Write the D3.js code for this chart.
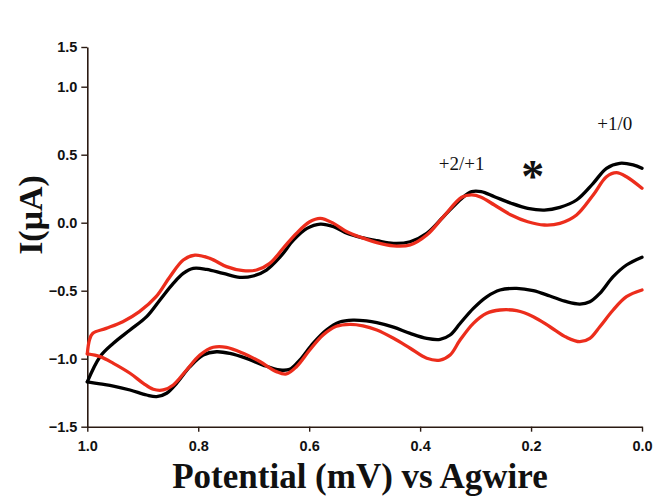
<!DOCTYPE html>
<html><head><meta charset="utf-8">
<script src="https://cdn.jsdelivr.net/npm/d3@7"></script>
<style>body{margin:0;background:#fff}svg{display:block}</style>
</head><body>
<svg id="chart" width="654" height="499"></svg>
<script>
// Potential (x) and current (y) arrays
const blackFwdX = [1.0,0.977,0.953,0.923,0.893,0.869,0.845,0.827,0.809,0.785,0.755,0.725,0.701,0.677,0.652,0.628,0.604,0.580,0.556,0.532,0.505,0.478,0.448,0.418,0.388,0.358,0.325,0.307,0.290,0.266,0.236,0.206,0.176,0.148,0.118,0.088,0.064,0.040,0.016,0.0];
const blackFwdY = [-1.17,-0.985,-0.887,-0.789,-0.691,-0.568,-0.446,-0.373,-0.336,-0.343,-0.373,-0.402,-0.392,-0.348,-0.250,-0.127,-0.042,-0.010,-0.029,-0.078,-0.11,-0.132,-0.152,-0.140,-0.078,0.044,0.179,0.228,0.228,0.191,0.143,0.106,0.093,0.113,0.167,0.290,0.400,0.437,0.425,0.400];
const blackRevX = [0.0,0.028,0.052,0.076,0.094,0.112,0.136,0.166,0.196,0.226,0.256,0.280,0.304,0.328,0.346,0.364,0.388,0.418,0.448,0.478,0.497,0.521,0.545,0.569,0.593,0.617,0.635,0.653,0.683,0.713,0.743,0.767,0.791,0.815,0.839,0.857,0.875,0.893,0.923,0.953,0.977,1.0];
const blackRevY = [-0.254,-0.311,-0.397,-0.519,-0.581,-0.598,-0.581,-0.539,-0.500,-0.483,-0.495,-0.545,-0.630,-0.741,-0.826,-0.858,-0.851,-0.814,-0.768,-0.735,-0.722,-0.716,-0.730,-0.789,-0.887,-1.010,-1.078,-1.083,-1.047,-0.998,-0.961,-0.949,-0.973,-1.059,-1.181,-1.254,-1.279,-1.267,-1.230,-1.201,-1.186,-1.17];
const redFwdX = [1.0,0.996,0.990,0.966,0.936,0.906,0.876,0.851,0.827,0.806,0.779,0.749,0.719,0.695,0.671,0.647,0.623,0.599,0.580,0.556,0.532,0.505,0.478,0.448,0.418,0.388,0.358,0.325,0.307,0.290,0.266,0.236,0.206,0.176,0.148,0.118,0.088,0.064,0.046,0.028,0.0];
const redFwdY = [-0.965,-0.86,-0.813,-0.777,-0.728,-0.654,-0.544,-0.397,-0.274,-0.238,-0.262,-0.323,-0.353,-0.348,-0.299,-0.188,-0.078,0.007,0.032,-0.005,-0.066,-0.11,-0.147,-0.171,-0.164,-0.091,0.044,0.187,0.204,0.187,0.130,0.057,0.007,-0.017,-0.005,0.057,0.204,0.338,0.368,0.338,0.253];
const redRevX = [0.0,0.028,0.052,0.076,0.094,0.112,0.136,0.166,0.196,0.226,0.256,0.280,0.304,0.328,0.346,0.364,0.388,0.418,0.448,0.478,0.503,0.527,0.551,0.575,0.599,0.623,0.641,0.659,0.689,0.719,0.749,0.773,0.797,0.821,0.845,0.863,0.881,0.899,0.923,0.953,0.977,1.0];
const redRevY = [-0.495,-0.544,-0.642,-0.765,-0.850,-0.875,-0.843,-0.765,-0.691,-0.647,-0.642,-0.666,-0.740,-0.863,-0.973,-1.010,-0.997,-0.923,-0.850,-0.789,-0.758,-0.747,-0.762,-0.826,-0.936,-1.059,-1.112,-1.095,-1.021,-0.960,-0.916,-0.916,-0.973,-1.083,-1.193,-1.230,-1.225,-1.181,-1.107,-1.034,-0.985,-0.965];

const xTicks = [1.0,0.8,0.6,0.4,0.2,0.0];
const yTicks = [-1.5,-1.0,-0.5,0.0,0.5,1.0,1.5];
const annotations = [
  {text:"+2/+1", x:0.325, y:0.385},
  {text:"+1/0", x:0.049, y:0.68}
];
const starPos = {x:0.197, y:0.226};

const svg = d3.select("#chart");
const x = d3.scaleLinear().domain([1.0, 0.0]).range([87.3, 642]);
const y = d3.scaleLinear().domain([-1.5, 1.0, 1.5]).range([426.7, 86.7, 47]);

const axisColor = "#2a1a12";
const xAxis = d3.axisBottom(x).tickValues(xTicks).tickFormat(d3.format(".1f")).tickSize(5).tickSizeOuter(0);
const yAxis = d3.axisLeft(y).tickValues(yTicks).tickFormat(d3.format(".1f")).tickSize(6).tickSizeOuter(0);

const gx = svg.append("g").attr("transform","translate(0,426.7)").call(xAxis);
const gy = svg.append("g").attr("transform","translate(87.3,0)").call(yAxis);
[gx, gy].forEach(g => {
  g.select(".domain").attr("stroke", axisColor).attr("stroke-width", 1.6);
  g.selectAll(".tick line").attr("stroke", axisColor).attr("stroke-width", 1.4);
  g.selectAll(".tick text").attr("fill","#111")
    .style("font-family","'Liberation Sans', Arial, sans-serif")
    .style("font-weight","bold").style("font-size","14.5px");
});
gx.selectAll(".tick text").attr("dy","1.1em");
gy.selectAll(".tick text").attr("x",-10);

const line = d3.line().x(d => x(d[0])).y(d => y(d[1])).curve(d3.curveCatmullRom.alpha(0.5));
const zip = (a,b) => a.map((v,i)=>[v,b[i]]);

const series = [
  {xs: blackFwdX, ys: blackFwdY, color:"#000000"},
  {xs: blackRevX, ys: blackRevY, color:"#000000"},
  {xs: redFwdX, ys: redFwdY, color:"#ec2d1c"},
  {xs: redRevX, ys: redRevY, color:"#ec2d1c"}
];
svg.append("g").selectAll("path").data(series).join("path")
  .attr("d", s => line(zip(s.xs, s.ys)))
  .attr("fill","none").attr("stroke", s => s.color)
  .attr("stroke-width", 3.3).attr("stroke-linejoin","round").attr("stroke-linecap","round");

svg.append("g").selectAll("text").data(annotations).join("text")
  .attr("x", d => x(d.x)).attr("y", d => y(d.y))
  .attr("text-anchor","middle")
  .style("font-family","'Liberation Serif','Times New Roman',serif")
  .style("font-size","19px").attr("fill","#111")
  .text(d => d.text);

svg.append("text").attr("x", x(starPos.x)).attr("y", y(starPos.y))
  .attr("text-anchor","middle")
  .style("font-family","'Liberation Serif','Times New Roman',serif")
  .style("font-size","46px").style("font-weight","bold").attr("fill","#111")
  .text("*");

svg.append("text").attr("x", 360).attr("y", 488)
  .attr("text-anchor","middle")
  .style("font-family","'Liberation Serif','Times New Roman',serif")
  .style("font-size","35px").style("font-weight","bold").attr("fill","#111")
  .text("Potential (mV) vs Agwire");

svg.append("text").attr("transform","translate(42,215) rotate(-90)")
  .attr("text-anchor","middle")
  .style("font-family","'Liberation Serif','Times New Roman',serif")
  .style("font-size","34px").style("font-weight","bold").attr("fill","#111")
  .text("I(μA)");
</script>
</body></html>
